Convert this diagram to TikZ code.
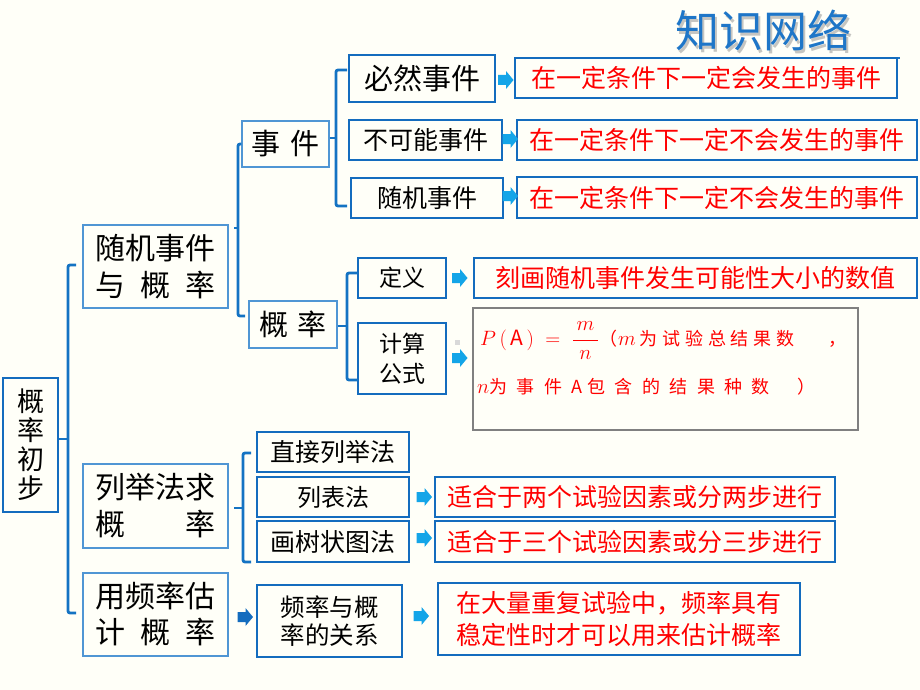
\documentclass[tikz,border=0pt]{standalone}
\usepackage{fontspec}
\setmainfont{Noto Sans CJK SC}
\usetikzlibrary{calc}
\definecolor{bg}{RGB}{255,255,248}
\definecolor{dblue}{RGB}{20,108,190}
\definecolor{lblue}{RGB}{80,150,212}
\definecolor{brkblue}{RGB}{20,115,195}
\definecolor{arrblue}{RGB}{20,165,232}
\definecolor{tred}{RGB}{255,0,0}
\definecolor{titleblue}{RGB}{30,118,200}
\definecolor{fgrey}{RGB}{128,128,128}
\newcommand{\fsz}[2]{\fontsize{#1pt}{#2pt}\selectfont}
\newcommand{\blkarrow}[2]{\fill[#2] (#1) ++(-7.5,-5) -- ++(8,0) -- ++(0,-4) -- ++(7.5,9) -- ++(-7.5,9) -- ++(0,-4) -- ++(-8,0) -- cycle;}
\newcommand{\gA}{\hspace{4.75pt}}
\newcommand{\gB}{\hspace{9.4pt}}
\begin{document}
\begin{tikzpicture}[x=1pt,y=-1pt,
  thinbox/.style={draw=lblue,line width=1.4pt,inner sep=0pt,align=center,fill=bg},
  thickbox/.style={draw=dblue,line width=2.6pt,inner sep=0pt,align=center,fill=bg},
  redbox/.style={thickbox,text=tred},
  brk/.style={draw=brkblue,line width=2.8pt,rounded corners=2pt}]
\fill[bg] (0,0) rectangle (920,690);
\useasboundingbox (0,0) rectangle (920,690);

% title
\node[font=\fsz{44}{44}, text=gray, opacity=0.45] (tsh) at (765.5,33.5) {知识网络};
\node[font=\fsz{44}{44}, text=titleblue] (title) at (763,30) {知识网络};
\coordinate (ul1) at (677,58);
\coordinate (ul2) at (900,58);
\draw[titleblue, line width=2pt] (ul1) -- (ul2);

% level 0 / 1
\node[thickbox, line width=2pt, minimum width=55pt, minimum height=134pt, font=\fsz{27}{29}] (root) at (30.5,445) {概\\率\\初\\步};
\node[thinbox, minimum width=145pt, minimum height=83pt, font=\fsz{30}{37}] (b1) at (155.5,266.5) {随机事件\\\makebox[120pt]{与\hfill 概\hfill 率}};
\node[thinbox, minimum width=145pt, minimum height=84pt, font=\fsz{30}{37}] (b2) at (155.5,506) {列举法求\\\makebox[120pt]{概\hfill 率}};
\node[thinbox, minimum width=145pt, minimum height=83pt, font=\fsz{30}{36}] (b3) at (155.5,614.5) {用频率估\\\makebox[120pt]{计\hfill 概\hfill 率}};

% level 2
\node[thinbox, minimum width=87pt, minimum height=46pt, font=\fsz{29}{29}] (c1) at (285.5,144) {事\hspace{10pt}件};
\node[thinbox, minimum width=88pt, minimum height=47pt, font=\fsz{29}{29}] (c2) at (293,324.5) {概\hspace{9pt}率};

% events
\node[thickbox, minimum width=146pt, minimum height=47pt, font=\fsz{29}{29}] (d1) at (422,78.5) {必然事件};
\node[thickbox, minimum width=153pt, minimum height=40pt, font=\fsz{25}{25}] (d2) at (425.5,140) {不可能事件};
\node[thickbox, minimum width=152pt, minimum height=40pt, font=\fsz{25}{25}] (d3) at (427,198) {随机事件};
\node[redbox, minimum width=382pt, minimum height=40pt, font=\fsz{25}{25}] (e1) at (706,78) {在一定条件下一定会发生的事件};
\node[redbox, minimum width=400pt, minimum height=40pt, font=\fsz{25}{25}] (e2) at (717,140) {在一定条件下一定不会发生的事件};
\node[redbox, minimum width=400pt, minimum height=41pt, font=\fsz{25}{25}] (e3) at (717,197.5) {在一定条件下一定不会发生的事件};

% probability
\node[thickbox, minimum width=88pt, minimum height=40pt, font=\fsz{23}{23}] (f1) at (402,278) {定义};
\node[thickbox, minimum width=88pt, minimum height=71pt, font=\fsz{23}{30}] (f2) at (402,358.5) {计算\\公式};
\node[redbox, minimum width=443pt, minimum height=40pt, font=\fsz{25}{25}] (g1) at (695.5,278) {刻画随机事件发生可能性大小的数值};
\node[draw=fgrey, line width=2.6pt, fill=bg, minimum width=385pt, minimum height=122pt, inner sep=0pt] (g2) at (665.5,369) {};
\node[anchor=base west, inner sep=0pt, text=tred, font=\fsz{21}{21}] (fm1) at (480,345) {$P\,(\,\mathrm{A}\,)\;=\;\displaystyle\frac{\,m\,}{\,n\,}$};
\node[anchor=base west, inner sep=0pt, text=tred, font=\fsz{18}{18}] (fm2) at (599,345) {（\hspace{1pt}{\fsz{20}{20}$m$}\hspace{4pt}为\gA 试\gA 验\gA 总\gA 结\gA 果\gA 数\hspace{34pt}，};
\node[anchor=base west, inner sep=0pt, text=tred, font=\fsz{18}{18}] (fm3) at (477,393) {{\fsz{20}{20}$n$}为\gB 事\gB 件\gB A\hspace{5pt}包\gB 含\gB 的\gB 结\gB 果\gB 种\gB 数\hspace{28pt}）};
\fill[gray!30] (455,340) rectangle (460,345);

% enumeration
\node[thickbox, minimum width=152pt, minimum height=40pt, font=\fsz{25}{25}] (h1) at (333,452) {直接列举法};
\node[thickbox, minimum width=152pt, minimum height=40pt, font=\fsz{24}{24}] (h2) at (333,497) {列表法};
\node[thickbox, minimum width=152pt, minimum height=41pt, font=\fsz{25}{25}] (h3) at (333,541.5) {画树状图法};
\node[redbox, minimum width=400pt, minimum height=40pt, font=\fsz{25}{25}] (i2) at (635,497) {适合于两个试验因素或分两步进行};
\node[redbox, minimum width=400pt, minimum height=41pt, font=\fsz{25}{25}] (i3) at (635,541.5) {适合于三个试验因素或分三步进行};

% frequency
\node[thickbox, minimum width=145pt, minimum height=72pt, font=\fsz{24.5}{28}] (j1) at (329.5,621) {频率与概\\率的关系};
\node[redbox, minimum width=362pt, minimum height=72pt, font=\fsz{25}{32}] (j2) at (619,619) {在大量重复试验中，频率具有\\稳定性时才可以用来估计概率};

% brackets
\coordinate (Am) at (68,439); \coordinate (A1) at (76,265); \coordinate (A2) at (76,613);
\draw[brk] (A1) -| (Am) |- (A2);
\draw[brk] (root.east |- Am) -- (Am);

\coordinate (Bm) at (238,228); \coordinate (B2) at (245,316); \coordinate (Bt) at (234,228);
\draw[brk] (c1.west) -| (Bm) |- (B2);
\draw[brk] (Bt) -- (Bm);

\coordinate (Cm) at (336,138); \coordinate (C1) at (347,70); \coordinate (C2) at (347,206);
\draw[brk] (C1) -| (Cm) |- (C2);
\draw[brk] (c1.east |- Cm) -- (Cm);

\coordinate (Dm) at (347,326); \coordinate (D1) at (358,273); \coordinate (D2) at (358,380);
\draw[brk] (D1) -| (Dm) |- (D2);
\draw[brk] (c2.east |- Dm) -- (Dm);

\coordinate (Em) at (243,508); \coordinate (E1) at (251,453); \coordinate (E2) at (251,562); \coordinate (Et) at (234,508);
\draw[brk] (E1) -| (Em) |- (E2);
\draw[brk] (Et) -- (Em);

% block arrows
\coordinate (ar1) at (505.5,80);
\coordinate (ar2) at (510,139);
\coordinate (ar3) at (510,196);
\coordinate (ar4) at (459.5,278);
\coordinate (ar5) at (459.5,358);
\coordinate (ar6) at (424,497);
\coordinate (ar7) at (424,538);
\coordinate (ar8) at (245,617);
\coordinate (ar9) at (421,616);
\blkarrow{ar1}{arrblue}
\blkarrow{ar2}{arrblue}
\blkarrow{ar3}{arrblue}
\blkarrow{ar4}{arrblue}
\blkarrow{ar5}{arrblue}
\blkarrow{ar6}{arrblue}
\blkarrow{ar7}{arrblue}
\blkarrow{ar8}{dblue}
\blkarrow{ar9}{arrblue}
\end{tikzpicture}
\end{document}
